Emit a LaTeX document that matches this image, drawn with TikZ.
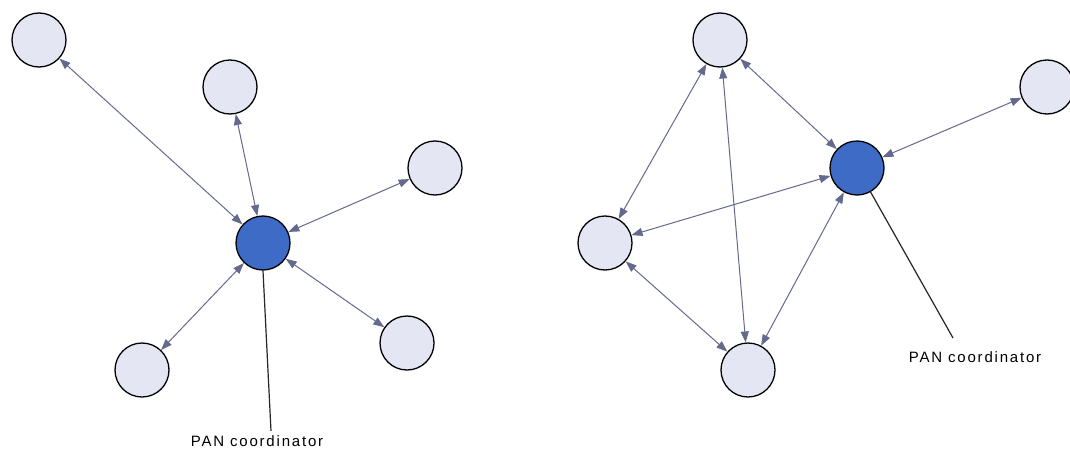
\documentclass[tikz,border=0pt]{standalone}
\usepackage{fontspec}
\setmainfont{Liberation Sans}
\usetikzlibrary{arrows.meta}
\definecolor{nodefill}{HTML}{E4E6F4}
\definecolor{hubfill}{HTML}{3D6BC6}
\definecolor{linkcol}{HTML}{646A8E}
\begin{document}
\begin{tikzpicture}[x=1pt,y=-1pt,
  dev/.style={circle,draw=black,line width=1.3pt,fill=nodefill,minimum size=54pt,inner sep=0pt},
  hub/.style={circle,draw=black,line width=1.3pt,fill=hubfill,minimum size=54pt,inner sep=0pt},
  link/.style={draw=linkcol,line width=1pt,{Triangle[length=11pt,width=8pt]}-{Triangle[length=11pt,width=8pt]}},
  lead/.style={draw=black!85,line width=1.2pt},
  lbl/.style={font=\fontsize{15}{17}\selectfont\addfontfeature{LetterSpace=12},inner sep=0pt}]
\useasboundingbox[fill=white] (0,0) rectangle (1070,452);
% left star
\node[hub] (h1) at (263,243) {};
\node[dev] (a) at (39,40) {};
\node[dev] (b) at (230,87) {};
\node[dev] (c) at (435,168) {};
\node[dev] (d) at (142,370) {};
\node[dev] (e) at (407,343) {};
\foreach \n in {a,b,c,d,e} \draw[link] (h1) -- (\n);
\node[lbl] (l1) at (257,441) {PAN coordinator};
\coordinate (e1) at (271,431);
\draw[lead] (h1.south) -- (e1);
% right mesh
\node[hub] (h2) at (857,168) {};
\node[dev] (t) at (720,40) {};
\node[dev] (r) at (1047,87) {};
\node[dev] (l) at (605,243) {};
\node[dev] (m) at (748,370) {};
\draw[link] (t) -- (l);
\draw[link] (t) -- (m);
\draw[link] (t) -- (h2);
\draw[link] (h2) -- (r);
\draw[link] (h2) -- (l);
\draw[link] (h2) -- (m);
\draw[link] (l) -- (m);
\node[lbl] (l2) at (975,357) {PAN coordinator};
\coordinate (e2) at (953,338);
\draw[lead] (h2) -- (e2);
\end{tikzpicture}
\end{document}
